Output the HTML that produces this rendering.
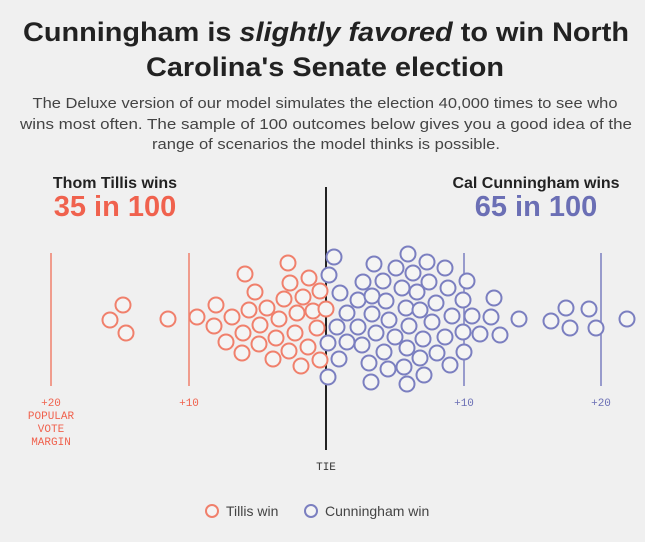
<!DOCTYPE html>
<html><head><meta charset="utf-8"><style>
body{margin:0;background:#f0f0f0;width:645px;height:537px;overflow:hidden;font-family:"Liberation Sans",sans-serif}
</style></head><body>
<svg width="645" height="537" xmlns="http://www.w3.org/2000/svg">
<rect width="645" height="537" fill="#f0f0f0"/>
<g font-family="Liberation Sans, sans-serif" text-anchor="middle">
<text x="326" y="41" font-size="27" font-weight="bold" fill="#222" textLength="606" lengthAdjust="spacingAndGlyphs">Cunningham is <tspan font-style="italic">slightly favored</tspan> to win North</text>
<text x="325" y="76" font-size="27" font-weight="bold" fill="#222" textLength="358" lengthAdjust="spacingAndGlyphs">Carolina's Senate election</text>
<text x="325" y="108" font-size="15" fill="#444" textLength="585" lengthAdjust="spacingAndGlyphs">The Deluxe version of our model simulates the election 40,000 times to see who</text>
<text x="326" y="129" font-size="15" fill="#444" textLength="612" lengthAdjust="spacingAndGlyphs">wins most often. The sample of 100 outcomes below gives you a good idea of the</text>
<text x="326" y="149" font-size="15" fill="#444" textLength="348" lengthAdjust="spacingAndGlyphs">range of scenarios the model thinks is possible.</text>
<text x="115" y="188" font-size="16" font-weight="bold" fill="#222">Thom Tillis wins</text>
<text x="115" y="216" font-size="29" font-weight="bold" fill="#f0624e">35 in 100</text>
<text x="536" y="188" font-size="16" font-weight="bold" fill="#222">Cal Cunningham wins</text>
<text x="536" y="216" font-size="29" font-weight="bold" fill="#6b6fb5">65 in 100</text>
</g>
<g stroke-width="1.5">
<line x1="51" y1="253" x2="51" y2="386" stroke="#f0806c"/>
<line x1="189" y1="253" x2="189" y2="386" stroke="#f0806c"/>
<line x1="464" y1="253" x2="464" y2="386" stroke="#7b7fc0"/>
<line x1="601" y1="253" x2="601" y2="386" stroke="#7b7fc0"/>
<line x1="326" y1="187" x2="326" y2="450" stroke="#222" stroke-width="2"/>
</g>
<g font-family="Liberation Mono, monospace" font-size="11" text-anchor="middle">
<text x="51" y="406" fill="#f0624e">+20</text>
<text x="51" y="419" fill="#f0624e">POPULAR</text>
<text x="51" y="432" fill="#f0624e">VOTE</text>
<text x="51" y="445" fill="#f0624e">MARGIN</text>
<text x="189" y="406" fill="#f0624e">+10</text>
<text x="464" y="406" fill="#6b6fb5">+10</text>
<text x="601" y="406" fill="#6b6fb5">+20</text>
<text x="326" y="470" fill="#333">TIE</text>
</g>
<g fill="#f4f4f4" stroke="#f0806c" stroke-width="2">
<circle cx="123" cy="305" r="7.5"/><circle cx="110" cy="320" r="7.5"/><circle cx="126" cy="333" r="7.5"/><circle cx="168" cy="319" r="7.5"/><circle cx="197" cy="317" r="7.5"/><circle cx="216" cy="305" r="7.5"/><circle cx="214" cy="326" r="7.5"/><circle cx="232" cy="317" r="7.5"/><circle cx="226" cy="342" r="7.5"/><circle cx="245" cy="274" r="7.5"/><circle cx="255" cy="292" r="7.5"/><circle cx="249" cy="310" r="7.5"/><circle cx="243" cy="333" r="7.5"/><circle cx="242" cy="353" r="7.5"/><circle cx="267" cy="308" r="7.5"/><circle cx="260" cy="325" r="7.5"/><circle cx="259" cy="344" r="7.5"/><circle cx="273" cy="359" r="7.5"/><circle cx="288" cy="263" r="7.5"/><circle cx="290" cy="283" r="7.5"/><circle cx="284" cy="299" r="7.5"/><circle cx="279" cy="319" r="7.5"/><circle cx="276" cy="338" r="7.5"/><circle cx="289" cy="351" r="7.5"/><circle cx="301" cy="366" r="7.5"/><circle cx="309" cy="278" r="7.5"/><circle cx="303" cy="297" r="7.5"/><circle cx="297" cy="313" r="7.5"/><circle cx="295" cy="333" r="7.5"/><circle cx="308" cy="347" r="7.5"/><circle cx="320" cy="291" r="7.5"/><circle cx="313" cy="311" r="7.5"/><circle cx="317" cy="328" r="7.5"/><circle cx="326" cy="309" r="7.5"/><circle cx="320" cy="360" r="7.5"/>
</g>
<g fill="#f4f4f4" stroke="#7b7fc0" stroke-width="2">
<circle cx="334" cy="257" r="7.5"/><circle cx="329" cy="275" r="7.5"/><circle cx="340" cy="293" r="7.5"/><circle cx="347" cy="313" r="7.5"/><circle cx="337" cy="327" r="7.5"/><circle cx="328" cy="343" r="7.5"/><circle cx="339" cy="359" r="7.5"/><circle cx="328" cy="377" r="7.5"/><circle cx="374" cy="264" r="7.5"/><circle cx="363" cy="282" r="7.5"/><circle cx="358" cy="300" r="7.5"/><circle cx="372" cy="314" r="7.5"/><circle cx="358" cy="327" r="7.5"/><circle cx="347" cy="342" r="7.5"/><circle cx="362" cy="345" r="7.5"/><circle cx="369" cy="363" r="7.5"/><circle cx="371" cy="382" r="7.5"/><circle cx="396" cy="268" r="7.5"/><circle cx="383" cy="281" r="7.5"/><circle cx="372" cy="296" r="7.5"/><circle cx="386" cy="301" r="7.5"/><circle cx="389" cy="320" r="7.5"/><circle cx="376" cy="333" r="7.5"/><circle cx="395" cy="337" r="7.5"/><circle cx="384" cy="352" r="7.5"/><circle cx="388" cy="369" r="7.5"/><circle cx="408" cy="254" r="7.5"/><circle cx="427" cy="262" r="7.5"/><circle cx="413" cy="273" r="7.5"/><circle cx="402" cy="288" r="7.5"/><circle cx="417" cy="292" r="7.5"/><circle cx="406" cy="308" r="7.5"/><circle cx="420" cy="310" r="7.5"/><circle cx="409" cy="326" r="7.5"/><circle cx="423" cy="339" r="7.5"/><circle cx="407" cy="348" r="7.5"/><circle cx="420" cy="358" r="7.5"/><circle cx="404" cy="367" r="7.5"/><circle cx="407" cy="384" r="7.5"/><circle cx="424" cy="375" r="7.5"/><circle cx="445" cy="268" r="7.5"/><circle cx="429" cy="282" r="7.5"/><circle cx="448" cy="288" r="7.5"/><circle cx="436" cy="303" r="7.5"/><circle cx="432" cy="322" r="7.5"/><circle cx="452" cy="316" r="7.5"/><circle cx="445" cy="337" r="7.5"/><circle cx="437" cy="353" r="7.5"/><circle cx="450" cy="365" r="7.5"/><circle cx="467" cy="281" r="7.5"/><circle cx="463" cy="300" r="7.5"/><circle cx="472" cy="316" r="7.5"/><circle cx="463" cy="332" r="7.5"/><circle cx="464" cy="352" r="7.5"/><circle cx="480" cy="334" r="7.5"/><circle cx="491" cy="317" r="7.5"/><circle cx="494" cy="298" r="7.5"/><circle cx="500" cy="335" r="7.5"/><circle cx="519" cy="319" r="7.5"/><circle cx="551" cy="321" r="7.5"/><circle cx="566" cy="308" r="7.5"/><circle cx="570" cy="328" r="7.5"/><circle cx="589" cy="309" r="7.5"/><circle cx="596" cy="328" r="7.5"/><circle cx="627" cy="319" r="7.5"/>
</g>
<g font-family="Liberation Sans, sans-serif" font-size="14" fill="#444">
<circle cx="212" cy="511" r="6" fill="#f4f4f4" stroke="#f0806c" stroke-width="2"/>
<text x="226" y="516">Tillis win</text>
<circle cx="311" cy="511" r="6" fill="#f4f4f4" stroke="#7b7fc0" stroke-width="2"/>
<text x="325" y="516">Cunningham win</text>
</g>
</svg>
</body></html>
